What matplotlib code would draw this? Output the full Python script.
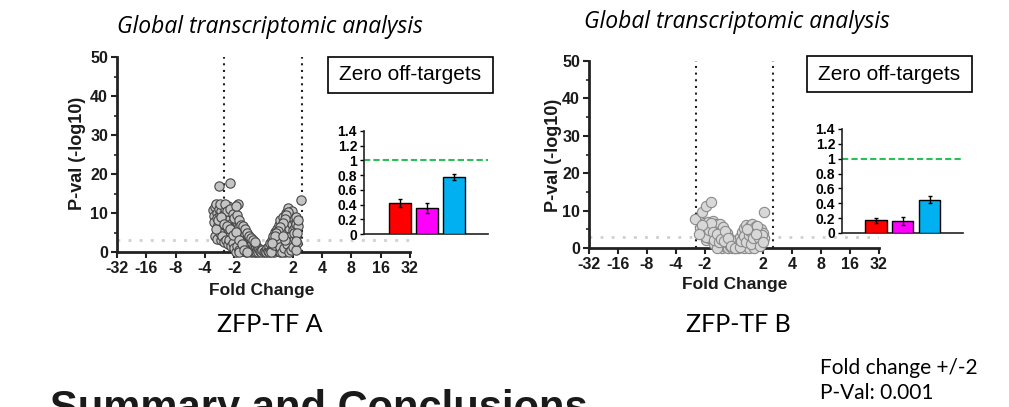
import matplotlib
matplotlib.use("Agg")
import matplotlib.pyplot as plt
from matplotlib.patches import Rectangle
from matplotlib.ticker import MultipleLocator

W, H = 1009, 407

# volcano data, x = log2 fold change, y = -log10 p-value
fc_a = [-1.72, -1.70, -1.68, -1.65, -1.62, -1.60, -1.58, -1.55, -1.52, -1.50, -1.48, -1.46,
        -1.44, -1.42, -1.40, -1.38, -1.36, -1.34, -1.32, -1.30, -1.28, -1.26, -1.24, -1.22,
        -1.20, -1.18, -1.16, -1.14, -1.12, -1.10, -1.08, -1.06, -1.04, -1.02, -1.00, -0.98,
        -0.96, -0.94, -0.92, -0.90, -0.88, -0.86, -0.84, -0.82, -0.80, -0.78, -0.76, -0.74,
        -0.72, -0.70, -0.68, -0.66, -0.64, -0.62, -0.60, -0.58, -0.56, -0.54, -0.52, -0.50,
        -0.48, -0.46, -0.44, -0.42, -0.40, -0.38, -0.36, -0.34, -0.32, -0.30, -0.28, -0.26,
        -0.24, -0.22, -0.20, -0.18, -0.15, -0.12, -0.08, -0.05, 0.00,
        -1.66, -1.58, -1.50, -1.45, -1.40, -1.35, -1.28, -1.22, -1.18, -1.12, -1.05, -1.00,
        -0.95, -0.92, -0.85, -0.82, -1.48, -1.30, -1.25, -1.15, -1.05, -0.99, -0.91, -0.84,
        -0.78, -0.70, -0.63, -0.56, -0.49, -0.43, -0.37, -0.30, -1.62, -1.55, -1.45, -1.35,
        -1.25, -1.15, -1.05, -0.95, -0.85, -0.75, -0.65, -0.55,
        0.05, 0.08, 0.12, 0.15, 0.18, 0.20, 0.23, 0.26, 0.28, 0.31, 0.33, 0.36, 0.38, 0.40,
        0.42, 0.44, 0.46, 0.48, 0.50, 0.52, 0.54, 0.56, 0.58, 0.60, 0.62, 0.64, 0.66, 0.68,
        0.70, 0.72, 0.74, 0.76, 0.78, 0.80, 0.82, 0.84, 0.86, 0.88, 0.90, 0.92, 0.94, 0.96,
        0.98, 1.00, 1.03, 1.06, 1.08, 1.10, 1.12, 1.15, 1.17,
        0.25, 0.35, 0.45, 0.55, 0.62, 0.70, 0.80, 0.88, 0.95, 1.02, 1.10, 1.05, 0.98, 0.92,
        0.85, 0.78, 0.72, 0.65, 0.58, 0.50, 0.44, 0.38, 0.30, 1.12, 1.18, 1.14, 0.75, 0.65,
        1.10,
        -1.51, -1.14, 1.28, -0.88, -0.95]
pv_a = [10.8, 9.2, 7.8, 11.5, 12.4, 10.1, 8.6, 6.9, 11.0, 9.5, 7.6, 5.8,
        10.4, 8.3, 6.4, 12.0, 9.7, 4.6, 7.9, 10.9, 6.1, 8.8, 5.2, 11.8,
        9.9, 7.2, 4.1, 8.4, 6.0, 10.2, 3.3, 7.5, 5.4, 9.1, 2.6, 6.7,
        4.4, 8.0, 5.9, 3.0, 7.1, 1.8, 5.0, 6.5, 3.6, 0.9, 4.7, 2.4,
        5.8, 0.3, 3.9, 1.5, 4.6, 2.8, 0.0, 3.5, 1.1, 2.2, 4.0, 0.6,
        2.9, 1.7, 0.0, 3.1, 1.0, 2.3, 0.4, 1.6, 0.0, 2.0, 0.8, 1.3,
        0.0, 0.5, 1.1, 0.0, 0.7, 0.2, 0.0, 0.4, 0.0,
        4.2, 3.4, 5.0, 3.0, 4.0, 2.5, 3.2, 2.0, 3.0, 1.5, 2.2, 1.0,
        0.0, 1.6, 0.5, 0.0, 12.2, 12.4, 10.4, 11.0, 9.8, 8.6, 9.4, 8.2,
        7.0, 6.6, 5.8, 5.0, 4.2, 3.6, 3.0, 2.6, 6.0, 8.2, 9.0, 7.2,
        6.6, 5.8, 4.4, 5.2, 3.2, 2.0, 0.4, 0.0,
        0.3, 0.0, 0.9, 0.2, 1.5, 0.0, 2.2, 0.6, 3.0, 1.3, 4.0, 0.0, 2.6, 5.1,
        1.1, 3.7, 6.0, 0.2, 2.1, 7.0, 4.5, 0.0, 8.1, 3.2, 5.9, 1.4, 9.0, 6.8,
        2.7, 4.6, 0.0, 10.1, 7.6, 5.3, 11.3, 3.4, 8.8, 6.2, 9.8, 1.2, 4.1, 7.3,
        8.9, 5.6, 3.0, 8.0, 6.4, 4.4, 7.3, 2.2, 6.7,
        0.0, 1.8, 3.0, 1.2, 0.0, 1.0, 2.0, 0.0, 0.6, 1.4, 0.5, 4.9, 10.5, 9.2,
        10.2, 9.5, 8.5, 7.5, 6.5, 5.5, 4.8, 4.0, 2.2, 9.0, 8.2, 5.0, 3.0, 4.0,
        2.8,
        17.0, 17.8, 13.3, 12.3, 11.9]

fc_b = [-1.33, -1.18, -1.10, -0.95, -0.81, -0.98, -1.05, -0.92, -0.88, -0.85, -0.80, -0.76,
        -0.72, -0.70, -0.67, -0.64, -0.62, -0.58, -0.55, -0.53, -0.50, -0.47, -0.44, -0.42,
        -0.40, -0.37, -0.34, -0.32, -0.29, -0.27, -0.24, -0.21, -0.19, -0.16, -0.13, -0.10,
        -0.07, -0.04, 0.00, 0.03, 0.06, 0.09, 0.12, 0.15, 0.18, 0.21, 0.24, 0.27, 0.30, 0.33,
        0.36, 0.39, 0.42, 0.45, 0.48, 0.51, 0.54, 0.57, 0.60, 0.63, 0.66, 0.69, 0.72, 0.75,
        0.78, 0.81, 0.84, 0.87, 0.90, 0.93, 0.96, 0.99, 1.02, 1.05, -1.02, -0.60, 0.50, 0.70,
        -1.00, -0.90, -0.95, -0.85, -0.78, -0.74, -0.68, -0.60, -0.52, -0.45, -0.35, -0.30,
        -0.22, -0.10, 0.05, 0.20, 0.25, 0.35, 0.40, 0.50, 0.55, 0.60, 0.65, 0.70, 0.80, 0.85,
        0.90, 0.95, 1.00, 0.75, 0.45, -1.12, -1.20]
pv_b = [7.7, 5.3, 9.7, 11.2, 12.4, 2.1, 6.8, 4.3, 7.0, 2.6, 5.6, 3.4,
        7.2, 1.2, 4.8, 6.3, 2.9, 5.2, 0.6, 3.8, 6.4, 1.9, 4.5, 0.0,
        2.7, 5.6, 1.0, 3.5, 0.3, 2.1, 4.1, 0.0, 1.4, 2.8, 0.5, 1.9,
        0.0, 1.0, 0.2, 0.0, 1.3, 0.4, 2.2, 0.0, 1.1, 3.0, 0.3, 4.2, 1.7, 5.4,
        0.0, 2.8, 6.1, 0.9, 4.0, 2.0, 5.8, 0.2, 3.3, 6.3, 1.4, 4.7, 2.5, 5.9,
        0.5, 3.7, 1.8, 4.9, 3.0, 5.2, 2.1, 4.0, 2.7, 9.7, 3.6, 0.0, 0.0, 0.0,
        5.6, 6.0, 3.0, 4.8, 6.6, 4.2, 2.2, 3.8, 1.5, 2.4, 1.8, 4.6,
        2.6, 0.6, 0.0, 0.3, 2.0, 3.2, 1.5, 3.5, 4.5, 1.2, 2.8, 5.4, 6.0, 2.8,
        0.6, 3.4, 1.5, 3.8, 5.0, 6.2, 3.8]

# inset bars
bar_pos = [1, 2, 3]
bar_colors = ["#ff0000", "#ff00ff", "#00b0f0"]
bars_a = [0.42, 0.35, 0.77]
err_a = [0.05, 0.07, 0.04]
bars_b = [0.17, 0.16, 0.45]
err_b = [0.03, 0.05, 0.05]

x_ticks = [-5, -4, -3, -2, -1, 1, 2, 3, 4, 5]
x_labels = ["-32", "-16", "-8", "-4", "-2", "2", "4", "8", "16", "32"]
inset_ticks = [0, 0.2, 0.4, 0.6, 0.8, 1, 1.2, 1.4]
inset_labels = ["0", "0.2", "0.4", "0.6", "0.8", "1", "1.2", "1.4"]

ARIAL = "Liberation Sans"


def rect(l, t, r, b):
    return [l / W, 1 - b / H, (r - l) / W, (b - t) / H]


fig = plt.figure(figsize=(W / 100, H / 100), dpi=100)
fig.patch.set_facecolor("white")


def volcano(box, fc, pv, cut, face, edge, size):
    ax = fig.add_axes(rect(*box))
    ax.set_xlim(-5, 5)
    ax.set_ylim(0, 50)
    ax.axhline(3, color="#cfcfcf", ls=(0, (1, 3)), lw=2, zorder=1)
    for c in cut:
        ax.axvline(c, color="#222222", ls=(0, (1, 2.2)), lw=1.5, zorder=2)
    ax.scatter(fc, pv, s=size, facecolor=face, edgecolor=edge, linewidth=0.8,
               zorder=3, clip_on=False)
    for s in ["top", "right"]:
        ax.spines[s].set_visible(False)
    for s in ["left", "bottom"]:
        ax.spines[s].set_linewidth(2)
        ax.spines[s].set_color("#222222")
    ax.set_xticks(x_ticks)
    ax.set_xticklabels(x_labels)
    ax.set_yticks([0, 10, 20, 30, 40, 50])
    ax.yaxis.set_minor_locator(MultipleLocator(5))
    ax.tick_params(which="major", length=4, width=1.5, color="#222222", pad=2.5)
    ax.tick_params(which="minor", length=2.5, width=1.2, color="#222222")
    for lab in ax.get_xticklabels() + ax.get_yticklabels():
        lab.set_fontfamily(ARIAL)
        lab.set_fontweight("bold")
        lab.set_fontsize(11.5)
        lab.set_color("#1a1a1a")
    ax.set_facecolor("none")
    return ax


def inset(box, vals, errs, xlim):
    ax = fig.add_axes(rect(*box))
    ax.bar(bar_pos, vals, width=0.8, color=bar_colors, edgecolor="black", linewidth=1,
           yerr=errs, error_kw=dict(ecolor="black", elinewidth=1, capsize=1.5), zorder=3)
    ax.axhline(1, color="#2bbf5a", ls=(0, (3, 1.5)), lw=1.5, zorder=2)
    ax.set_xlim(*xlim)
    ax.set_ylim(0, 1.4)
    ax.set_xticks([])
    ax.set_yticks(inset_ticks)
    ax.set_yticklabels(inset_labels)
    for s in ["top", "right"]:
        ax.spines[s].set_visible(False)
    for s in ["left", "bottom"]:
        ax.spines[s].set_linewidth(1.2)
        ax.spines[s].set_color("#222222")
    ax.tick_params(length=3, width=1, pad=2)
    for lab in ax.get_yticklabels():
        lab.set_fontfamily(ARIAL)
        lab.set_fontweight("bold")
        lab.set_fontsize(10)
    ax.set_facecolor("none")
    return ax


volcano((117, 57, 410, 252), fc_a, pv_a, [-1.35, 1.31], "#c4c4c4", "#454545", 45)
volcano((589, 61, 879, 248), fc_b, pv_b, [-1.30, 1.33], "#d8d8d8", "#8a8a8a", 55)
inset((364, 131, 488, 234), bars_a, err_a, (-0.32, 4.26))
inset((842, 129, 963, 233), bars_b, err_b, (-0.27, 4.25))

# "Zero off-targets" boxes
for l, t, r, b in [(328, 57, 493, 93), (807, 56, 972, 92)]:
    fig.patches.append(Rectangle((l / W, 1 - b / H), (r - l) / W, (b - t) / H,
                                 transform=fig.transFigure, facecolor="white",
                                 edgecolor="black", linewidth=1.2))
    fig.text((l + r) / 2 / W, 1 - (t + b) / 2 / H, "Zero off-targets", ha="center",
             va="center", fontsize=15, family=ARIAL)

# axis labels
for x, y in [(78, 153), (553, 155)]:
    fig.text(x / W, 1 - y / H, "P-val (-log10)", rotation=90, ha="center", va="center",
             fontsize=13, fontweight="bold", family=ARIAL, color="#1a1a1a")
for x, y in [(262, 290), (735, 284)]:
    fig.text(x / W, 1 - y / H, "Fold Change", ha="center", va="center",
             fontsize=12.5, fontweight="bold", family=ARIAL, color="#1a1a1a")

# titles and captions
fig.text(270 / W, 1 - 27 / H, "Global transcriptomic analysis", ha="center", va="center",
         fontsize=16.5, style="italic", family="Open Sans")
fig.text(737 / W, 1 - 22 / H, "Global transcriptomic analysis", ha="center", va="center",
         fontsize=16.5, style="italic", family="Open Sans")
fig.text(270 / W, 1 - 325 / H, "ZFP-TF A", ha="center", va="center", fontsize=18, family="Lato")
fig.text(738 / W, 1 - 325 / H, "ZFP-TF B", ha="center", va="center", fontsize=18, family="Lato")
fig.text(820 / W, 1 - 368 / H, "Fold change +/-2", ha="left", va="center", fontsize=15, family="Lato")
fig.text(820 / W, 1 - 393 / H, "P-Val: 0.001", ha="left", va="center", fontsize=15, family="Lato")
fig.text(50 / W, 1 - 389 / H, "Summary and Conclusions", ha="left", va="top",
         fontsize=30, fontweight="bold", family=ARIAL, color="#1a1a1a")

fig.savefig("out.png", dpi=100)
